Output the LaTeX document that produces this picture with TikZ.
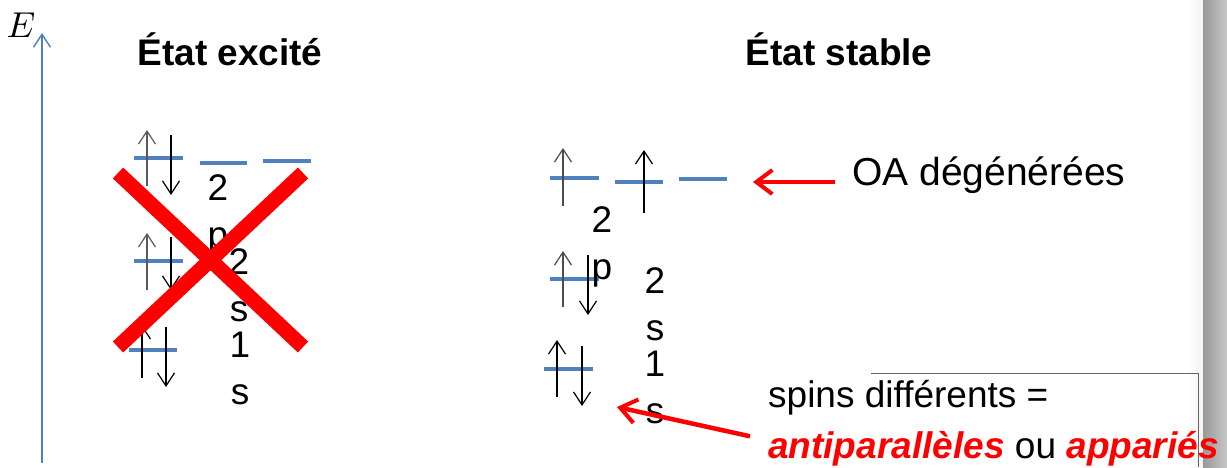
\documentclass[tikz,border=0pt]{standalone}
\usepackage{fontspec}
\setmainfont{Liberation Sans}
\usetikzlibrary{arrows.meta}
\definecolor{orbblue}{RGB}{79,129,189}
\tikzset{
  orb/.style={orbblue,line width=4.5pt},
  spinup/.style={line width=1.4pt,-{Straight Barb[length=13pt,width=17pt,line width=1.2pt]}},
  spindn/.style={line width=1.4pt,-{Straight Barb[length=13pt,width=17pt,line width=1.2pt]}},
  redarrow/.style={red,line width=4.5pt,-{Straight Barb[length=16pt,width=24pt,line width=4pt]}},
  sublabel/.style={anchor=north,inner sep=0pt,align=center,font=\fontsize{37}{47}\selectfont},
  txt/.style={inner sep=0pt,font=\fontsize{37}{44}\selectfont},
  titre/.style={inner sep=0pt,anchor=base,font=\fontsize{37}{42}\selectfont\bfseries},
}
\begin{document}
\begin{tikzpicture}[x=1pt,y=-1pt]
  \useasboundingbox (0,0) rectangle (1227,467);
  % barre grise a droite
  \shade[left color=white,right color=black!5] (1188,0) rectangle (1203,467);
  \shade[left color=black!40,right color=black!22] (1203,0) rectangle (1227,467);
  % axe des energies
  \draw[orbblue,line width=1.6pt,-{Straight Barb[length=13pt,width=17pt,line width=1.4pt]}] (42,463) -- (42,33);
  \node[inner sep=0pt,scale=3.6] (E) at (21,25) {$E$};
  % titres
  \node[titre] (excite) at (230,65) {État excité};
  \node[titre] (stable) at (839,65) {État stable};

  % etat excite : 1s2 2s2 2p2
  \draw[orb] (134,158) -- (183,158);
  \draw[orb] (200,163) -- (247,163);
  \draw[orb] (263,161) -- (311,161);
  \draw[orb] (134,261) -- (183,261);
  \draw[orb] (129,350) -- (177,350);
  \draw[spinup,black!65] (147,186) -- (147,130);
  \draw[spindn] (171,135) -- (171,195);
  \draw[spinup,black!65] (147,290) -- (147,233);
  \draw[spindn] (171,237) -- (171,290);
  \draw[spinup] (142,378) -- (142,325);
  \draw[spindn] (166,327) -- (166,387);
  \node[sublabel] (ex2p) at (218,174) {2\\p};
  \node[sublabel] (ex2s) at (239,248) {2\\s};
  \node[sublabel] (ex1s) at (240,332) {1\\s};
  % croix
  \draw[red,line width=15pt] (118,173) -- (303,347);
  \draw[red,line width=15pt] (118,347) -- (303,173);

  % etat stable : 1s2 2s2 2p2
  \draw[orb] (550,178) -- (599,178);
  \draw[orb] (615,182) -- (663,182);
  \draw[orb] (679,179) -- (727,179);
  \draw[orb] (550,279) -- (599,279);
  \draw[orb] (544,369) -- (593,369);
  \draw[spinup,black!70] (563,206) -- (563,148);
  \draw[spinup] (644,213) -- (644,150);
  \draw[spinup,black!70] (563,307) -- (563,251);
  \draw[spindn] (588,255) -- (588,315);
  \draw[spinup] (557,397) -- (557,340);
  \draw[spindn] (582,346) -- (582,406);
  \node[sublabel] (st2p) at (602,206) {2\\p};
  \node[sublabel] (st2s) at (655,267) {2\\s};
  \node[sublabel] (st1s) at (655,351) {1\\s};
  \coordinate (pointe2p) at (753,182);
  \coordinate (pointe1s) at (617,407);

  % OA degenerees
  \node[inner sep=0pt,anchor=base west,font=\fontsize{39}{44}\selectfont] (oa) at (852,185) {OA dégénérées};
  \draw[redarrow] (oa.west |- pointe2p) ++(-17,0) -- (pointe2p);

  % encadre spins
  \draw[black!60,line width=1pt] (871,373) -- (1198,373) -- (1198,467);
  \node[txt,anchor=base west] (spins) at (768,407) {spins différents =};
  \node[txt,anchor=base west] (anti) at (768,458)
    {\textcolor{red}{\bfseries\itshape antiparallèles} ou \textcolor{red}{\bfseries\itshape appariés}};
  \draw[redarrow] (anti.west) ++(-18,-12) -- (pointe1s);
\end{tikzpicture}
\end{document}
